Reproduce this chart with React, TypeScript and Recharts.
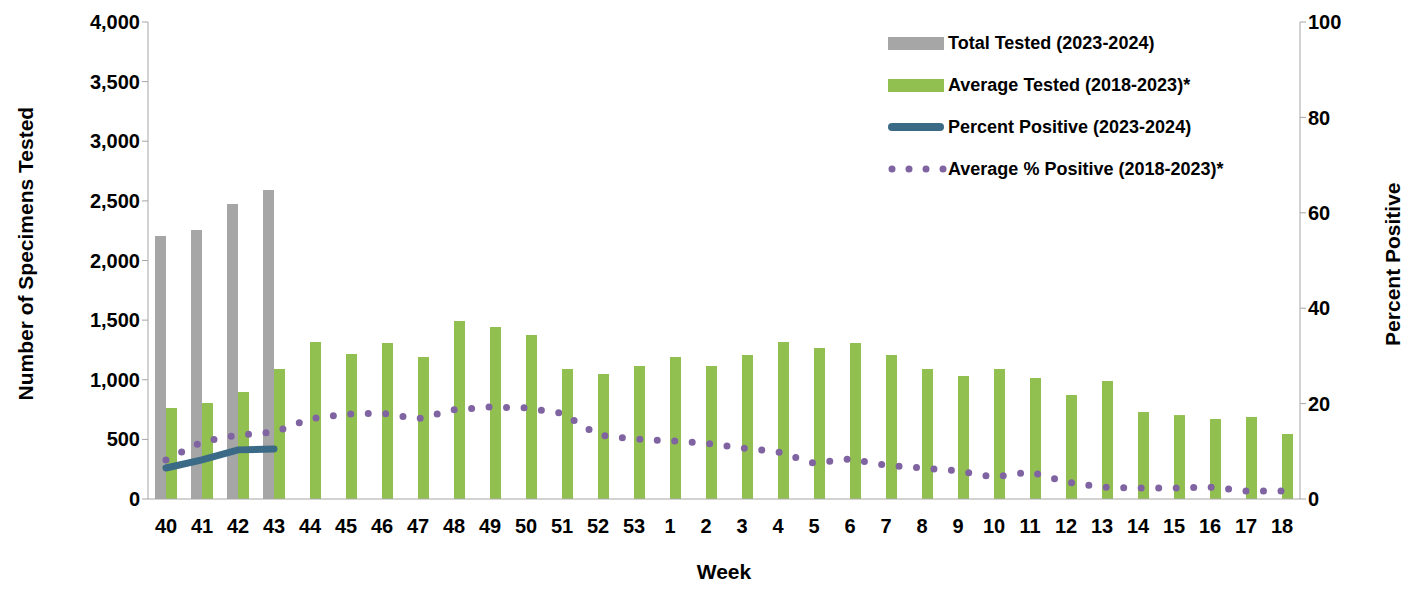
import { ComposedChart, Bar, Line, XAxis, YAxis } from "recharts"

const weeks = ["40","41","42","43","44","45","46","47","48","49","50","51","52","53","1","2","3","4","5","6","7","8","9","10","11","12","13","14","15","16","17","18"]
const totalTested: (number | null)[] = [2205, 2256, 2474, 2591]
const avgTested = [763, 805, 897, 1090, 1317, 1216, 1308, 1191, 1493, 1442, 1375, 1090, 1048, 1115, 1191, 1115, 1208, 1317, 1266, 1308, 1208, 1090, 1031, 1090, 1015, 872, 990, 730, 704, 671, 688, 545]
const pctPositive: (number | null)[] = [6.5, 8.2, 10.3, 10.5]
const avgPctPositive = [8.2, 12, 13.4, 14, 16.8, 17.8, 18, 16.8, 18.7, 19.3, 19.1, 18, 13.4, 12.6, 12.2, 11.7, 10.7, 9.9, 7.5, 8.4, 7.1, 6.5, 5.9, 4.6, 5.7, 3.6, 2.5, 2.3, 2.3, 2.5, 1.7, 1.7]
const leftTicks = [0, 500, 1000, 1500, 2000, 2500, 3000, 3500, 4000]
const rightTicks = [0, 20, 40, 60, 80, 100]

const data = weeks.map((w, i) => ({
    week: w,
    total: totalTested[i] ?? null,
    avg: avgTested[i],
    pct: pctPositive[i] ?? null,
    avgPct: avgPctPositive[i],
}))

const font = "'Liberation Sans', Arial, sans-serif"
const tick = { fill: "#000", fontSize: 20, fontWeight: 700, fontFamily: font }
const axisColor = "#a6a6a6"

function LegendRow({ kind, label }: { kind: string; label: string }) {
    let icon = null
    if (kind === "gray" || kind === "green")
        icon = <div style={{ width: 56, height: 13, background: kind === "gray" ? "#a6a6a6" : "#92c050" }} />
    else if (kind === "line")
        icon = <div style={{ width: 56, height: 8, borderRadius: 4, background: "#3a6a86" }} />
    else
        icon = (
            <svg width={62} height={10}>
                {[0, 1, 2, 3].map((k) => <circle key={k} cx={4 + k * 17} cy={5} r={3.5} fill="#8064a2" />)}
            </svg>
        )
    return (
        <div style={{ display: "flex", alignItems: "center", height: 42 }}>
            <div style={{ width: 62, display: "flex", justifyContent: "flex-start" }}>{icon}</div>
            <span style={{ fontSize: 18, fontWeight: 700, fontFamily: font, marginLeft: -2 }}>{label}</span>
        </div>
    )
}

export default function App() {
    return (
        <div style={{ position: "relative", width: 1401, height: 579 }}>
            <ComposedChart width={1401} height={579} data={data} margin={{ top: 14, right: 0, bottom: 0, left: 0 }} barSize={11} barGap={0}>
                <XAxis dataKey="week" height={88} tick={tick} tickLine={false} stroke={axisColor} tickMargin={14}
                    label={{ value: "Week", position: "insideBottom", offset: 8, style: { ...tick, fontSize: 21 } }} />
                <YAxis yAxisId="l" domain={[0, 4000]} ticks={leftTicks} width={140} stroke={axisColor} tick={tick}
                    tickFormatter={(v: number) => v.toLocaleString("en-US")}
                    label={{ value: "Number of Specimens Tested", angle: -90, position: "insideLeft", offset: 18, dy: 140, style: { ...tick, fontSize: 21 } }} />
                <YAxis yAxisId="r" orientation="right" domain={[0, 100]} ticks={rightTicks} width={109} stroke={axisColor} tick={tick}
                    label={{ value: "Percent Positive", angle: -90, position: "insideRight", offset: 16, dy: -78, style: { ...tick, fontSize: 21 } }} />
                <Bar yAxisId="l" dataKey="total" fill="#a6a6a6" isAnimationActive={false} />
                <Bar yAxisId="l" dataKey="avg" fill="#92c050" isAnimationActive={false} />
                <Line yAxisId="r" dataKey="avgPct" stroke="#8064a2" strokeWidth={7} strokeDasharray="0 17.5" strokeLinecap="round" dot={false} isAnimationActive={false} />
                <Line yAxisId="r" dataKey="pct" stroke="#3a6a86" strokeWidth={7} strokeLinecap="round" dot={false} connectNulls={false} isAnimationActive={false} />
            </ComposedChart>
            <div style={{ position: "absolute", left: 880, top: 14 }}>
                <LegendRow kind="gray" label="Total Tested (2023-2024)" />
                <LegendRow kind="green" label="Average Tested (2018-2023)*" />
                <LegendRow kind="line" label="Percent Positive (2023-2024)" />
                <LegendRow kind="dots" label="Average % Positive (2018-2023)*" />
            </div>
        </div>
    )
}
